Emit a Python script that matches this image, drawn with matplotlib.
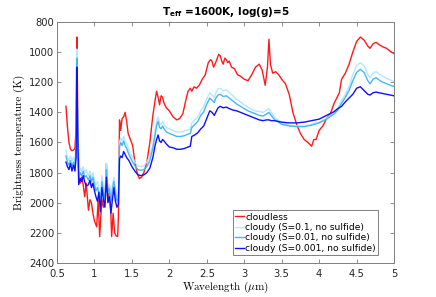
import matplotlib
matplotlib.use("Agg")
import matplotlib.pyplot as plt
from matplotlib.ticker import FuncFormatter

# ---------------- data ----------------
wl_cloudless = [0.62, 0.64, 0.66, 0.68, 0.70, 0.72, 0.74, 0.755, 0.765, 0.775, 0.79, 0.81, 0.83, 0.85, 0.87,
                0.89, 0.92, 0.94, 0.96, 0.98, 1.00, 1.03, 1.05, 1.07, 1.09, 1.10, 1.12, 1.14, 1.16, 1.18,
                1.20, 1.21, 1.23, 1.25, 1.27, 1.29, 1.31, 1.32, 1.335, 1.35, 1.37, 1.39, 1.41, 1.43, 1.45,
                1.48, 1.51, 1.54, 1.57, 1.60, 1.63, 1.66, 1.70, 1.74, 1.78, 1.81, 1.83, 1.85, 1.87, 1.89,
                1.91, 1.93, 1.96, 2.00, 2.05, 2.10, 2.14, 2.18, 2.22, 2.25, 2.28, 2.30, 2.33, 2.36, 2.40,
                2.44, 2.48, 2.52, 2.55, 2.57, 2.59, 2.61, 2.64, 2.66, 2.68, 2.70, 2.72, 2.74, 2.76, 2.78,
                2.80, 2.83, 2.87, 2.91, 2.95, 3.00, 3.05, 3.10, 3.15, 3.20, 3.24, 3.28, 3.31, 3.33, 3.35,
                3.38, 3.42, 3.46, 3.50, 3.55, 3.60, 3.65, 3.70, 3.75, 3.80, 3.85, 3.90, 3.93, 3.96, 4.00,
                4.05, 4.10, 4.15, 4.20, 4.24, 4.27, 4.30, 4.35, 4.40, 4.45, 4.50, 4.55, 4.60, 4.65, 4.68,
                4.72, 4.76, 4.80, 4.85, 4.90, 4.95, 5.00]
tb_cloudless = [1360, 1500, 1600, 1645, 1655, 1650, 1640, 1500, 900, 1300, 1780, 1870, 1830, 1880, 1960,
                1870, 2050, 1980, 2000, 2070, 2120, 2160, 1980, 2225, 2050, 1980, 2030, 2000, 1740, 1990,
                1890, 1950, 2225, 2070, 2200, 2220, 2225, 2100, 1450, 1520, 1440, 1430, 1400, 1460, 1540,
                1580, 1620, 1730, 1800, 1840, 1830, 1800, 1730, 1600, 1420, 1320, 1260, 1300, 1350, 1290,
                1300, 1340, 1370, 1390, 1430, 1450, 1440, 1410, 1320, 1260, 1240, 1260, 1230, 1240, 1220,
                1180, 1150, 1070, 1050, 1060, 1100, 1080, 1040, 1015, 1025, 1060, 1080, 1040, 1050, 1070,
                1060, 1100, 1110, 1150, 1160, 1180, 1190, 1150, 1100, 1080, 1120, 1220, 1100, 915, 1080,
                1140, 1130, 1150, 1180, 1210, 1280, 1400, 1480, 1540, 1580, 1600, 1625, 1580, 1580, 1520,
                1490, 1440, 1410, 1340, 1300, 1270, 1180, 1140, 1080, 1000, 930, 900, 920, 960, 975,
                945, 935, 950, 965, 975, 995, 1010]

wl_cloudy = [0.62, 0.64, 0.66, 0.68, 0.70, 0.72, 0.74, 0.755, 0.765, 0.775, 0.79, 0.81, 0.83, 0.85, 0.87,
             0.89, 0.92, 0.94, 0.96, 0.98, 1.00, 1.02, 1.04, 1.06, 1.08, 1.10, 1.12, 1.14, 1.16, 1.18,
             1.20, 1.22, 1.24, 1.26, 1.28, 1.30, 1.32, 1.335, 1.35, 1.37, 1.39, 1.41, 1.43, 1.46, 1.50,
             1.54, 1.58, 1.62, 1.66, 1.70, 1.74, 1.78, 1.81, 1.83, 1.85, 1.87, 1.89, 1.91, 1.93, 1.96,
             2.00, 2.05, 2.10, 2.15, 2.20, 2.25, 2.28, 2.30, 2.34, 2.38, 2.42, 2.46, 2.50, 2.54, 2.57,
             2.60, 2.62, 2.65, 2.68, 2.72, 2.76, 2.80, 2.85, 2.90, 2.95, 3.00, 3.05, 3.10, 3.15, 3.20,
             3.25, 3.30, 3.33, 3.36, 3.40, 3.50, 3.60, 3.70, 3.80, 3.90, 4.00, 4.10, 4.20, 4.25, 4.30,
             4.35, 4.40, 4.45, 4.50, 4.55, 4.60, 4.65, 4.68, 4.72, 4.76, 4.80, 4.85, 4.90, 4.95, 5.00]
tb_s01 = [1650, 1700, 1720, 1690, 1720, 1700, 1730, 1600, 980, 1400, 1800, 1770, 1790, 1760, 1800,
          1780, 1820, 1790, 1830, 1800, 1850, 1880, 1860, 1910, 1960, 1820, 1900, 1950, 1740, 1900,
          1880, 1950, 1880, 1830, 1900, 1960, 1950, 1600, 1570, 1590, 1560, 1590, 1610, 1650, 1690,
          1730, 1755, 1760, 1755, 1730, 1690, 1610, 1520, 1460, 1430, 1470, 1480, 1460, 1480, 1500,
          1510, 1520, 1530, 1530, 1525, 1515, 1510, 1470, 1450, 1430, 1390, 1360, 1310, 1270, 1285,
          1300, 1270, 1245, 1240, 1255, 1250, 1270, 1290, 1315, 1330, 1350, 1365, 1380, 1390, 1395,
          1400, 1385, 1375, 1400, 1430, 1470, 1485, 1490, 1490, 1480, 1465, 1440, 1400, 1370, 1320,
          1280, 1230, 1150, 1090, 1070, 1090, 1150, 1170, 1140, 1130, 1145, 1160, 1175, 1185, 1196]
tb_s001 = [1690, 1730, 1750, 1720, 1760, 1730, 1760, 1650, 1040, 1450, 1840, 1800, 1820, 1790, 1830,
           1820, 1850, 1820, 1860, 1830, 1880, 1920, 1900, 1940, 2000, 1860, 1940, 1980, 1780, 1940,
           1910, 1990, 1920, 1860, 1940, 1990, 1970, 1630, 1600, 1620, 1590, 1620, 1640, 1680, 1720,
           1755, 1780, 1785, 1780, 1760, 1720, 1640, 1550, 1490, 1460, 1500, 1510, 1490, 1510, 1530,
           1540, 1550, 1560, 1560, 1555, 1545, 1540, 1500, 1480, 1460, 1420, 1395, 1345, 1305, 1320,
           1335, 1305, 1285, 1280, 1295, 1290, 1305, 1325, 1345, 1360, 1375, 1390, 1400, 1410, 1420,
           1425, 1410, 1400, 1420, 1445, 1480, 1490, 1495, 1495, 1485, 1470, 1445, 1410, 1385, 1340,
           1300, 1255, 1190, 1135, 1115, 1135, 1190, 1210, 1180, 1170, 1185, 1200, 1210, 1220, 1228]
tb_s0001 = [1730, 1760, 1780, 1740, 1790, 1750, 1790, 1700, 1100, 1500, 1880, 1840, 1860, 1820, 1860,
            1890, 1880, 1850, 1900, 1870, 1920, 1960, 1990, 1930, 2060, 1900, 1980, 2030, 1830, 2000,
            1960, 2070, 1980, 1900, 1990, 2030, 2010, 1710, 1690, 1700, 1660, 1680, 1700, 1720, 1760,
            1790, 1815, 1820, 1815, 1800, 1770, 1700, 1620, 1580, 1550, 1590, 1600, 1580, 1590, 1610,
            1630, 1635, 1645, 1645, 1640, 1630, 1625, 1560, 1550, 1535, 1510, 1490, 1440, 1390, 1400,
            1420, 1400, 1370, 1360, 1370, 1365, 1375, 1385, 1390, 1400, 1410, 1420, 1430, 1440, 1450,
            1455, 1450, 1450, 1455, 1455, 1465, 1470, 1470, 1465, 1455, 1445, 1420, 1395, 1375, 1360,
            1330, 1305, 1280, 1240, 1230, 1255, 1280, 1285, 1270, 1265, 1270, 1275, 1280, 1285, 1290]

labels = ["cloudless", "cloudy (S=0.1, no sulfide)", "cloudy (S=0.01, no sulfide)",
          "cloudy (S=0.001, no sulfide)"]
colors = ["#ff1a1a", "#b4e6ff", "#45b8f2", "#1010ff"]
xticks = [0.5, 1, 1.5, 2, 2.5, 3, 3.5, 4, 4.5, 5]
yticks = [800, 1000, 1200, 1400, 1600, 1800, 2000, 2200, 2400]

# ---------------- plot ----------------
plt.rcParams['mathtext.fontset'] = 'cm'
fig = plt.figure(figsize=(4.36, 2.97), dpi=100)
ax = fig.add_axes([0.1307, 0.1145, 0.773, 0.8115])

series = [(wl_cloudless, tb_cloudless), (wl_cloudy, tb_s01), (wl_cloudy, tb_s001), (wl_cloudy, tb_s0001)]
for (w, t), lab, c in zip(series, labels, colors):
    ax.plot(w, t, color=c, lw=1.0, label=lab)

ax.set_xlim(0.5, 5)
ax.set_ylim(2400, 800)
ax.set_xticks(xticks)
ax.set_yticks(yticks)
ax.xaxis.set_major_formatter(FuncFormatter(lambda v, p: ('%g' % v)))
ax.tick_params(direction='in', length=3, width=0.6, labelsize=7.2, colors='#808080',
               labelcolor='#262626', top=True, right=True)
ax.tick_params(axis='x', pad=4)
ax.tick_params(axis='y', pad=2)
for s in ax.spines.values():
    s.set_color('#808080')
    s.set_linewidth(0.7)

ax.set_xlabel(r'Wavelength ($\mu$m)', family='cmr10', fontsize=8, labelpad=1)
ax.set_ylabel('Brightness temperature (K)', family='cmr10', fontsize=8, labelpad=3)
ax.set_title(r'T$_{\mathbf{eff}}$ =1600K, log(g)=5', fontsize=7.5, fontweight='bold', pad=5,
             math_fontfamily='dejavusans')

leg = ax.legend(loc='lower right', bbox_to_anchor=(0.953, 0.033), fontsize=6.6, handlelength=1.0,
                handletextpad=0.1, borderpad=0.25, labelspacing=0.15, borderaxespad=0,
                fancybox=False, framealpha=1)
leg.get_frame().set_edgecolor('#808080')
leg.get_frame().set_linewidth(0.7)

fig.savefig('out.png', dpi=100)
